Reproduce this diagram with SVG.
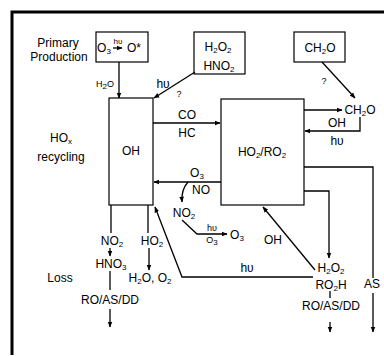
<svg xmlns="http://www.w3.org/2000/svg" width="384" height="356" viewBox="0 0 384 356">
<defs>
<marker id="ah" viewBox="0 0 10 10" refX="9" refY="5" markerWidth="6" markerHeight="6" orient="auto-start-reverse" markerUnits="userSpaceOnUse"><path d="M0,1 L10,5 L0,9 z" fill="#000"/></marker>
<style>
text{font-family:"Liberation Sans",Arial,sans-serif;font-size:12px;fill:#000;text-anchor:middle}
.s{font-size:8px}
.sm{font-size:9px}
.box{fill:#fff;stroke:#000;stroke-width:1.2}
.ln{fill:none;stroke:#000;stroke-width:1.3}
.ar{fill:none;stroke:#000;stroke-width:1.3;marker-end:url(#ah)}
</style>
</defs>
<rect width="384" height="356" fill="#fff"/>
<path d="M12,355 V12 H384" fill="none" stroke="#000" stroke-width="3"/>

<g id="primary-label"><text x="58" y="47">Primary</text><text x="59" y="61">Production</text></g>
<g id="primary"><rect class="box" x="96" y="32" width="52" height="30"/>
<text x="104" y="52">O<tspan class="s" dy="2">3</tspan></text>
<text x="118" y="44" class="s">hυ</text>
<path class="ar" d="M113,48 H122"/>
<text x="134" y="52">O*</text></g>

<g id="h2o2box"><rect class="box" x="194" y="32" width="51" height="42"/>
<text x="218" y="51">H<tspan class="s" dy="2">2</tspan><tspan dy="-2">O</tspan><tspan class="s" dy="2">2</tspan></text>
<text x="219" y="70">HNO<tspan class="s" dy="2">2</tspan></text></g>

<g id="ch2obox"><rect class="box" x="294" y="32" width="51" height="30"/>
<text x="320" y="52">CH<tspan class="s" dy="2">2</tspan><tspan dy="-2">O</tspan></text></g>

<g id="oh"><rect class="box" x="109" y="98" width="44" height="107"/><text x="131" y="155">OH</text></g>
<g id="ho2"><rect class="box" x="221" y="99" width="83" height="106"/>
<text x="262" y="156">HO<tspan class="s" dy="2">2</tspan><tspan dy="-2">/RO</tspan><tspan class="s" dy="2">2</tspan></text></g>

<g id="hox-label"><text x="61" y="142">HO<tspan class="s" dy="2">x</tspan></text><text x="61" y="161">recycling</text></g>
<g id="loss-label"><text x="60" y="282">Loss</text></g>

<g id="connectors">
<path class="ar" d="M119,62 V98"/>
<text x="105" y="87" class="sm">H<tspan class="s" dy="2">2</tspan><tspan dy="-2">O</tspan></text>
<path class="ar" d="M195,72 L154,98"/>
<text x="163" y="88">hυ</text><text x="179" y="97" class="sm">?</text>
<path class="ar" d="M153,123 H220"/>
<text x="187" y="119">CO</text><text x="187" y="137">HC</text>
<path class="ar" d="M322,62 L355,98"/>
<text x="324" y="84" class="sm">?</text>
<text x="360" y="114">CH<tspan class="s" dy="2">2</tspan><tspan dy="-2">O</tspan></text>
<path class="ar" d="M304,110 H342"/>
<path class="ar" d="M360,117 V131 H305"/>
<text x="337" y="127">OH</text><text x="337" y="145">hυ</text>
<path class="ln" d="M304,167 H373 V278"/>
<path class="ar" d="M373,293 V332"/>
<text x="372" y="288">AS</text>
<path class="ar" d="M304,191 H329 V258"/>
<text x="331" y="272">H<tspan class="s" dy="2">2</tspan><tspan dy="-2">O</tspan><tspan class="s" dy="2">2</tspan></text>
<text x="331" y="289">RO<tspan class="s" dy="2">2</tspan><tspan dy="-2">H</tspan></text>
<path class="ln" d="M330,291 V298"/>
<text x="331" y="310">RO/AS/DD</text>
<path class="ar" d="M330,322 V332"/>
<path class="ar" d="M315,270 L263,207"/>
<text x="273" y="244">OH</text>
<path class="ar" d="M313,277 H182 L155,207"/>
<text x="247" y="272">hυ</text>
<path class="ar" d="M221,182 H154"/>
<text x="197" y="177">O<tspan class="s" dy="2">3</tspan></text><text x="201" y="194">NO</text>
<path class="ar" d="M188,182 Q181,190 182,202"/>
<text x="184" y="217">NO<tspan class="s" dy="2">2</tspan></text>
<path class="ar" d="M182,220 L197,234 H227"/>
<text x="212" y="231" class="sm">hυ</text>
<text x="212" y="243" class="sm">O<tspan class="s" dy="2">3</tspan></text>
<text x="237" y="239">O<tspan class="s" dy="2">3</tspan></text>
<path class="ln" d="M111,205 V233"/>
<text x="112" y="245">NO<tspan class="s" dy="2">2</tspan></text>
<path class="ar" d="M110,248 V256"/>
<text x="111" y="268">HNO<tspan class="s" dy="2">3</tspan></text>
<path class="ln" d="M110,271 V290"/>
<text x="110" y="304">RO/AS/DD</text>
<path class="ar" d="M110,309 V327"/>
<path class="ln" d="M148,205 V233"/>
<text x="152" y="245">HO<tspan class="s" dy="2">2</tspan></text>
<path class="ar" d="M149,248 V270"/>
<text x="150" y="282">H<tspan class="s" dy="2">2</tspan><tspan dy="-2">O, O</tspan><tspan class="s" dy="2">2</tspan></text>
</g>
</svg>
